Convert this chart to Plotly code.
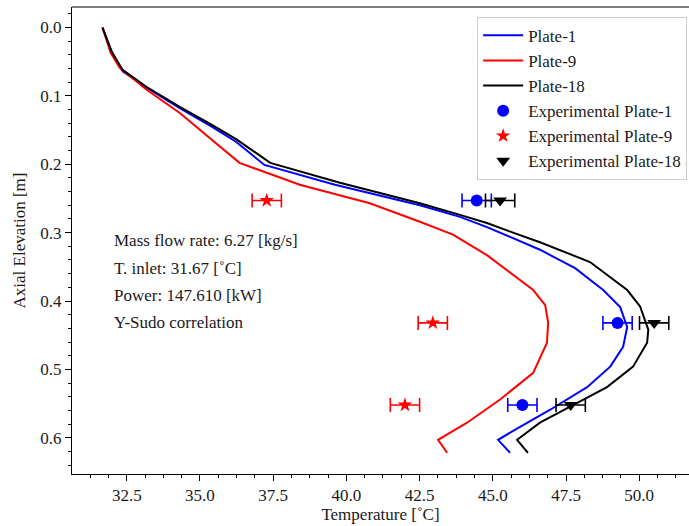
import plotly.graph_objects as go

# ---- data ----
z_plate1 = [0.000, 0.036, 0.064, 0.088, 0.118, 0.145, 0.167, 0.201, 0.230, 0.260, 0.277, 0.292,
            0.308, 0.325, 0.352, 0.384, 0.409, 0.438, 0.467, 0.496, 0.526, 0.559, 0.584, 0.603, 0.622]
t_plate1 = [31.67, 31.99, 32.36, 33.18, 34.31, 35.40, 36.23, 37.20, 39.61, 42.51, 43.88, 44.80,
            45.69, 46.61, 47.81, 48.77, 49.35, 49.59, 49.45, 49.01, 48.22, 46.96, 45.93, 45.18, 45.59]

z_plate9 = [0.000, 0.037, 0.059, 0.091, 0.125, 0.162, 0.198, 0.230, 0.257, 0.284, 0.303, 0.333,
            0.369, 0.384, 0.406, 0.432, 0.461, 0.505, 0.544, 0.578, 0.603, 0.622]
t_plate9 = [31.67, 31.95, 32.26, 33.18, 34.31, 35.34, 36.35, 38.41, 40.80, 42.51, 43.64, 44.80,
            45.93, 46.38, 46.79, 46.89, 46.85, 46.38, 45.25, 44.12, 43.13, 43.44]

z_plate18 = [0.000, 0.036, 0.062, 0.087, 0.116, 0.143, 0.164, 0.198, 0.227, 0.257, 0.274, 0.286,
             0.300, 0.314, 0.343, 0.384, 0.408, 0.442, 0.461, 0.496, 0.526, 0.552, 0.578, 0.603, 0.622]
t_plate18 = [31.67, 31.99, 32.36, 33.18, 34.31, 35.44, 36.26, 37.40, 39.78, 42.51, 43.88, 44.80,
             45.69, 46.61, 48.32, 49.59, 50.03, 50.31, 50.27, 49.79, 48.90, 47.74, 46.61, 45.83, 46.20]

exp_z = [0.253, 0.432, 0.552]
exp_t_plate1 = [44.45, 49.26, 46.01]
exp_t_plate9 = [37.28, 42.95, 42.00]
exp_t_plate18 = [45.25, 50.51, 47.66]
exp_err = [0.5, 0.5, 0.5]

notes = ["Mass flow rate: 6.27 [kg/s]", "T. inlet: 31.67 [˚C]", "Power: 147.610 [kW]", "Y-Sudo correlation"]

FONT = "Liberation Serif"
TXT = "#1a1a1a"

fig = go.Figure()
for name, t, z, c in [("Plate-1", t_plate1, z_plate1, "#0000ff"),
                      ("Plate-9", t_plate9, z_plate9, "#ff0000"),
                      ("Plate-18", t_plate18, z_plate18, "#000000")]:
    fig.add_trace(go.Scatter(x=t, y=z, mode="lines", name=name, line=dict(color=c, width=2)))

for name, t, c, sym, sz in [("Experimental Plate-1", exp_t_plate1, "#0000ff", "circle", 12),
                            ("Experimental Plate-9", exp_t_plate9, "#ff0000", "star", 11),
                            ("Experimental Plate-18", exp_t_plate18, "#000000", "triangle-down", 12)]:
    fig.add_trace(go.Scatter(x=t, y=exp_z, mode="markers", name=name,
                             marker=dict(color=c, symbol=sym, size=sz, line=dict(width=0)),
                             error_x=dict(type="data", array=exp_err, color=c, thickness=1.6, width=7)))

ys = [0.501, 0.441, 0.383, 0.325]
for txt, yy in zip(notes, ys):
    fig.add_annotation(text=txt, x=0.065, y=yy, xref="paper", yref="paper", showarrow=False,
                       xanchor="left", yanchor="middle", font=dict(family=FONT, size=17, color=TXT))

fig.add_shape(type="line", xref="paper", yref="paper", x0=0, x1=1, y0=1, y1=1,
              line=dict(color="black", width=1))

fig.update_layout(
    width=689, height=526,
    margin=dict(l=72, r=0, t=7, b=52),
    paper_bgcolor="white", plot_bgcolor="white",
    font=dict(family=FONT, size=17, color=TXT),
    showlegend=True,
    legend=dict(x=0.997, y=0.979, xanchor="right", yanchor="top", itemwidth=40,
                bgcolor="rgba(255,255,255,0.9)", bordercolor="#cccccc", borderwidth=1,
                font=dict(family=FONT, size=17, color=TXT)),
    xaxis=dict(range=[30.63, 51.70], dtick=2.5, tick0=0, tickformat=".1f",
               showgrid=False, zeroline=False, showline=True, linecolor="black", linewidth=1,
               ticks="outside", ticklen=6, tickcolor="black",
               minor=dict(dtick=0.625, tick0=0, ticks="outside", ticklen=3, tickcolor="black", showgrid=False),
               title=dict(text="Temperature [˚C]", font=dict(family=FONT, size=17, color=TXT), standoff=2),
               tickfont=dict(family=FONT, size=17, color=TXT)),
    yaxis=dict(range=[0.653, -0.03], dtick=0.1, tick0=0, tickformat=".1f",
               showgrid=False, zeroline=False, showline=True, linecolor="black", linewidth=1,
               ticks="outside", ticklen=6, tickcolor="black",
               minor=dict(dtick=0.02, tick0=0, ticks="outside", ticklen=3, tickcolor="black", showgrid=False),
               title=dict(text="Axial Elevation [m]", font=dict(family=FONT, size=17, color=TXT), standoff=10),
               tickfont=dict(family=FONT, size=17, color=TXT)),
)

fig.write_html("out.html")
